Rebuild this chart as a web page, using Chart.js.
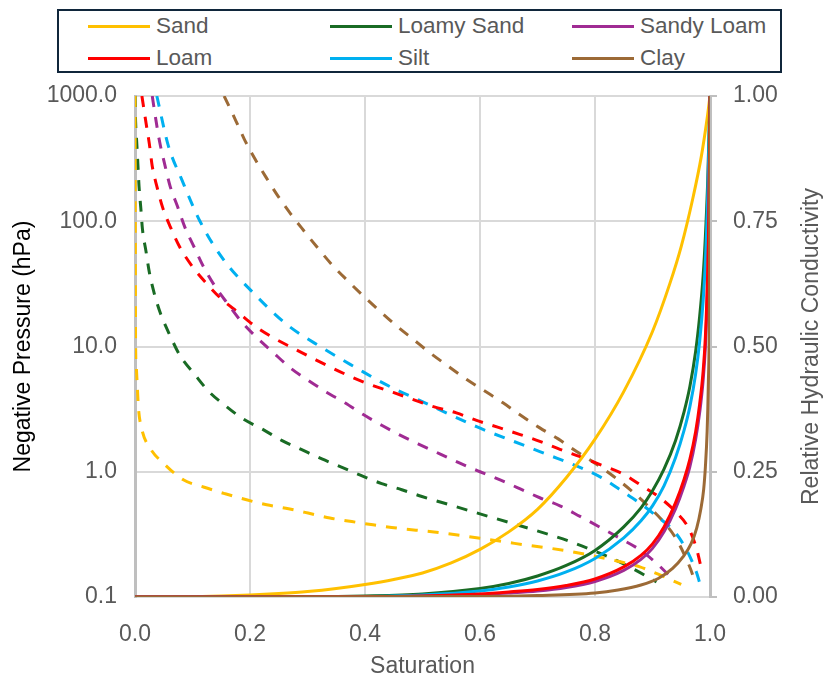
<!DOCTYPE html>
<html>
<head>
<meta charset="utf-8">
<title>Soil water retention and conductivity</title>
<script src="https://cdn.jsdelivr.net/npm/chart.js@4.4.1/dist/chart.umd.min.js"></script>
<style>
  html, body { margin: 0; padding: 0; background: #fff; }
  #wrap { position: relative; width: 827px; height: 681px; }
  #legend {
    position: absolute; left: 57px; top: 9px; width: 721px; height: 60px;
    border: 2px solid #10263b; background: #fff;
    font-family: "Liberation Sans", Arial, sans-serif; font-size: 22.5px; color: #595959;
  }
  #legend .item { position: absolute; height: 30px; display: flex; align-items: center; white-space: nowrap; }
  #legend .swatch { display: inline-block; width: 62px; height: 3px; margin-right: 6px; }
</style>
</head>
<body>
<div id="wrap">
  <canvas id="chart" width="827" height="681"></canvas>
  <div id="legend"></div>
</div>
<script>
const soils = ['Sand', 'Loamy Sand', 'Sandy Loam', 'Loam', 'Silt', 'Clay'];
const soilColors = ['#FFC000', '#196B24', '#A02B93', '#FF0000', '#00B0F0', '#9C6A36'];

// retention curves: saturation vs negative pressure (hPa)
const sandRetS = [0, 0.0005, 0.001, 0.002, 0.004, 0.006, 0.012, 0.026, 0.052, 0.084, 0.119, 0.157, 0.194, 0.229, 0.267, 0.301, 0.339, 0.377, 0.414, 0.455, 0.52, 0.6, 0.66, 0.722, 0.759, 0.797, 0.838, 0.878, 0.913, 0.945, 0.95];
const sandRetH = [1000, 100, 10.7, 7.2, 4.8, 3.24, 2.17, 1.55, 1.14, 0.863, 0.755, 0.667, 0.597, 0.545, 0.506, 0.468, 0.427, 0.4, 0.377, 0.355, 0.33, 0.295, 0.268, 0.245, 0.23, 0.213, 0.194, 0.174, 0.15, 0.129, 0.126];
const loamySandRetS = [0, 0.001, 0.003, 0.005, 0.007, 0.01, 0.013, 0.019, 0.025, 0.034, 0.045, 0.06, 0.078, 0.104, 0.128, 0.157, 0.188, 0.223, 0.255, 0.29, 0.325, 0.359, 0.394, 0.429, 0.464, 0.499, 0.55, 0.6, 0.65, 0.722, 0.757, 0.794, 0.829, 0.864, 0.896, 0.907];
const loamySandRetH = [1000, 631, 427, 286, 191, 129, 86, 58, 39, 26, 18, 12.5, 8.5, 5.97, 4.39, 3.37, 2.64, 2.17, 1.78, 1.5, 1.265, 1.09, 0.93, 0.805, 0.718, 0.634, 0.54, 0.461, 0.394, 0.313, 0.277, 0.238, 0.204, 0.17, 0.141, 0.132];
const sandyLoamRetS = [0.03, 0.037, 0.043, 0.052, 0.061, 0.074, 0.087, 0.103, 0.119, 0.139, 0.162, 0.185, 0.21, 0.238, 0.27, 0.301, 0.333, 0.365, 0.397, 0.429, 0.461, 0.496, 0.53, 0.565, 0.6, 0.635, 0.67, 0.704, 0.739, 0.774, 0.809, 0.843, 0.878, 0.907, 0.933, 0.938];
const sandyLoamRetH = [1000, 617, 427, 281, 191, 131, 89, 62, 43.5, 30.3, 21.7, 15.8, 12.0, 9.16, 6.76, 5.37, 4.32, 3.55, 2.86, 2.35, 1.96, 1.64, 1.39, 1.17, 1.0, 0.86, 0.73, 0.62, 0.535, 0.44, 0.36, 0.295, 0.238, 0.186, 0.141, 0.132];
const loamRetS = [0.012, 0.019, 0.025, 0.03, 0.038, 0.048, 0.062, 0.078, 0.099, 0.123, 0.151, 0.18, 0.209, 0.241, 0.273, 0.308, 0.374, 0.409, 0.449, 0.484, 0.519, 0.559, 0.594, 0.632, 0.67, 0.704, 0.739, 0.774, 0.809, 0.849, 0.878, 0.913, 0.942, 0.962, 0.977, 0.986];
const loamRetH = [1000, 617, 413, 275, 190, 129, 89, 62, 44, 32.4, 23.8, 18.6, 14.5, 11.7, 9.8, 8.1, 5.78, 4.97, 4.3, 3.77, 3.31, 2.95, 2.57, 2.26, 1.98, 1.75, 1.51, 1.32, 1.14, 0.96, 0.79, 0.62, 0.47, 0.36, 0.24, 0.16];
const siltRetS = [0.038, 0.058, 0.081, 0.113, 0.153, 0.205, 0.264, 0.325, 0.391, 0.42, 0.455, 0.492, 0.594, 0.704, 0.809, 0.843, 0.9, 0.948, 0.977, 0.983];
const siltRetH = [1000, 400, 217, 100, 50, 27, 15, 9.8, 6.5, 5.45, 4.5, 3.77, 2.29, 1.45, 0.91, 0.72, 0.47, 0.29, 0.155, 0.125];
const clayRetS = [0.155, 0.174, 0.19, 0.207, 0.228, 0.249, 0.271, 0.294, 0.319, 0.345, 0.371, 0.398, 0.426, 0.455, 0.484, 0.513, 0.545, 0.577, 0.609, 0.64, 0.672, 0.704, 0.736, 0.768, 0.8, 0.832, 0.861, 0.89, 0.916, 0.939, 0.957, 0.971, 0.974];
const clayRetH = [1000, 655, 453, 324, 224, 158, 114, 83.6, 60.3, 43.7, 33.1, 25.1, 19.1, 14.6, 11.4, 8.9, 6.95, 5.45, 4.39, 3.55, 2.8, 2.24, 1.83, 1.45, 1.17, 0.92, 0.72, 0.545, 0.413, 0.303, 0.21, 0.145, 0.129];

// conductivity curves: saturation vs relative hydraulic conductivity
const sandKS = [0, 0.1, 0.15, 0.2, 0.25, 0.3, 0.35, 0.4, 0.45, 0.5, 0.55, 0.6, 0.65, 0.7, 0.75, 0.8, 0.85, 0.9, 0.93, 0.95, 0.97, 0.985, 0.995, 1];
const sandK = [0, 0.0007, 0.002, 0.004, 0.007, 0.011, 0.017, 0.025, 0.035, 0.048, 0.068, 0.095, 0.13, 0.175, 0.238, 0.315, 0.41, 0.53, 0.625, 0.7, 0.795, 0.88, 0.955, 1];
const loamySandKS = [0, 0.3, 0.4, 0.5, 0.6, 0.65, 0.7, 0.75, 0.8, 0.85, 0.88, 0.9, 0.92, 0.94, 0.955, 0.965, 0.975, 0.982, 0.988, 0.992, 0.996, 1];
const loamySandK = [0, 0.0005, 0.002, 0.006, 0.017, 0.027, 0.042, 0.063, 0.093, 0.14, 0.178, 0.212, 0.255, 0.312, 0.37, 0.42, 0.49, 0.56, 0.64, 0.72, 0.83, 1];
const sandyLoamKS = [0, 0.4, 0.5, 0.6, 0.65, 0.7, 0.75, 0.8, 0.85, 0.88, 0.9, 0.92, 0.94, 0.955, 0.965, 0.975, 0.982, 0.988, 0.992, 0.996, 0.998, 1];
const sandyLoamK = [0, 0.0003, 0.0015, 0.005, 0.008, 0.012, 0.019, 0.031, 0.053, 0.075, 0.097, 0.13, 0.176, 0.222, 0.26, 0.315, 0.368, 0.432, 0.5, 0.63, 0.75, 1];
const loamKS = [0, 0.4, 0.5, 0.6, 0.65, 0.7, 0.75, 0.8, 0.85, 0.88, 0.9, 0.92, 0.94, 0.955, 0.965, 0.975, 0.982, 0.988, 0.992, 0.996, 0.998, 1];
const loamK = [0, 0.0005, 0.002, 0.006, 0.01, 0.015, 0.023, 0.036, 0.06, 0.083, 0.106, 0.14, 0.188, 0.235, 0.275, 0.33, 0.385, 0.45, 0.52, 0.65, 0.76, 1];
const siltKS = [0, 0.3, 0.4, 0.5, 0.6, 0.65, 0.7, 0.75, 0.8, 0.85, 0.88, 0.9, 0.92, 0.94, 0.955, 0.965, 0.975, 0.982, 0.988, 0.992, 0.996, 1];
const siltK = [0, 0.0003, 0.001, 0.004, 0.012, 0.02, 0.032, 0.05, 0.077, 0.118, 0.152, 0.182, 0.222, 0.278, 0.333, 0.38, 0.445, 0.51, 0.59, 0.67, 0.8, 1];
const clayKS = [0, 0.6, 0.7, 0.8, 0.84, 0.88, 0.91, 0.935, 0.953, 0.967, 0.977, 0.984, 0.989, 0.992, 0.995, 0.997, 0.999, 1];
const clayK = [0, 0.001, 0.003, 0.008, 0.014, 0.024, 0.037, 0.057, 0.08, 0.106, 0.138, 0.175, 0.215, 0.26, 0.33, 0.42, 0.6, 1];

const pressureTicks = [0.1, 1, 10, 100, 1000];

const retention = [
  [sandRetS, sandRetH], [loamySandRetS, loamySandRetH], [sandyLoamRetS, sandyLoamRetH],
  [loamRetS, loamRetH], [siltRetS, siltRetH], [clayRetS, clayRetH]
];
const conductivity = [
  [sandKS, sandK], [loamySandKS, loamySandK], [sandyLoamKS, sandyLoamK],
  [loamKS, loamK], [siltKS, siltK], [clayKS, clayK]
];
// drawing order of the solid lines (lower draws on top)
const kOrder = [5, 4, 2, 1, 3, 0];

const toPoints = (xs, ys) => xs.map((x, i) => ({ x, y: ys[i] }));

const datasets = [];
soils.forEach((name, i) => {
  datasets.push({
    label: name + ' pressure',
    data: toPoints(retention[i][0], retention[i][1]),
    yAxisID: 'y',
    borderColor: soilColors[i],
    borderWidth: 3,
    borderDash: [11, 10],
    cubicInterpolationMode: 'monotone',
    pointRadius: 0,
    order: 10 + i
  });
  datasets.push({
    label: name,
    data: toPoints(conductivity[i][0], conductivity[i][1]),
    yAxisID: 'y1',
    borderColor: soilColors[i],
    borderWidth: 3,
    cubicInterpolationMode: 'monotone',
    pointRadius: 0,
    order: kOrder[i]
  });
});

const FONT = '"Liberation Sans", Arial, sans-serif';
const GREY = '#595959';

// right axis title reads bottom-to-top like the left one
const rightTitle = {
  id: 'rightTitle',
  afterDraw(chart) {
    const { ctx, chartArea } = chart;
    ctx.save();
    ctx.translate(812, (chartArea.top + chartArea.bottom) / 2);
    ctx.rotate(-Math.PI / 2);
    ctx.font = '23px ' + FONT;
    ctx.fillStyle = GREY;
    ctx.textAlign = 'center';
    ctx.textBaseline = 'middle';
    ctx.fillText('Relative Hydraulic Conductivity', 0, 0);
    ctx.restore();
  }
};

new Chart(document.getElementById('chart'), {
  type: 'line',
  data: { datasets },
  plugins: [rightTitle],
  options: {
    responsive: false,
    animation: false,
    layout: { padding: { top: 96, left: 0, right: 0, bottom: 0 } },
    plugins: { legend: { display: false }, tooltip: { enabled: false } },
    scales: {
      x: {
        type: 'linear', min: 0, max: 1,
        afterFit(s) { s.height = 84; },
        ticks: { stepSize: 0.2, padding: 24, color: GREY, font: { family: FONT, size: 23 },
                 callback: v => v.toFixed(1) },
        grid: { color: '#d9d9d9', lineWidth: 2, drawTicks: false },
        border: { color: '#d9d9d9', width: 2 },
        title: { display: true, text: 'Saturation', color: GREY, font: { family: FONT, size: 23 },
                 padding: { top: 0, bottom: 1 } }
      },
      y: {
        type: 'logarithmic', position: 'left', min: 0.1, max: 1000,
        afterFit(s) { s.width = 135; },
        afterBuildTicks(s) { s.ticks = pressureTicks.map(v => ({ value: v })); },
        ticks: { padding: 18, color: GREY, font: { family: FONT, size: 23 },
                 callback: v => Number(v).toFixed(1) },
        grid: { color: '#d9d9d9', lineWidth: 2, drawTicks: false },
        border: { color: '#bfbfbf', width: 3 },
        title: { display: true, text: 'Negative Pressure (hPa)', color: '#000', font: { family: FONT, size: 23 },
                 padding: { top: 10, bottom: 0 } }
      },
      y1: {
        type: 'linear', position: 'right', min: 0, max: 1,
        afterFit(s) { s.width = 117; },
        ticks: { stepSize: 0.25, padding: 16, color: GREY, font: { family: FONT, size: 23 },
                 callback: v => v.toFixed(2) },
        grid: { drawOnChartArea: false, color: '#bfbfbf', lineWidth: 2, tickLength: 7 },
        border: { color: '#bfbfbf', width: 3 }
      }
    }
  }
});

// legend: solid line samples in a 3 x 2 grid
const legend = document.getElementById('legend');
soils.forEach((name, i) => {
  const item = document.createElement('div');
  item.className = 'item';
  item.style.left = (29 + (i % 3) * 242) + 'px';
  item.style.top = (Math.floor(i / 3) * 32) + 'px';
  const sw = document.createElement('span');
  sw.className = 'swatch';
  sw.style.background = soilColors[i];
  item.appendChild(sw);
  item.appendChild(document.createTextNode(name));
  legend.appendChild(item);
});
</script>
</body>
</html>
